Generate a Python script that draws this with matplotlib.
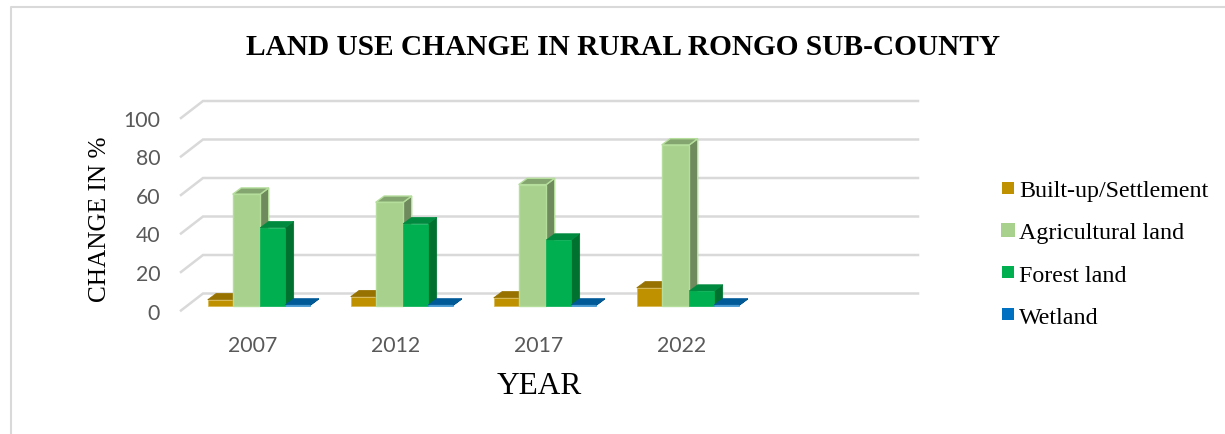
import matplotlib
matplotlib.use("Agg")
import matplotlib.pyplot as plt
from matplotlib.patches import Polygon, Rectangle
from matplotlib.lines import Line2D

years = ["2007", "2012", "2017", "2022"]
series_names = ["Built-up/Settlement", "Agricultural land", "Forest land", "Wetland"]
built_up = [3.0, 4.6, 4.0, 9.2]
agricultural = [57.8, 53.6, 62.8, 83.4]
forest = [40.4, 42.5, 34.0, 7.5]
wetland = [0.3, 0.3, 0.3, 0.3]
y_ticks = [0, 20, 40, 60, 80, 100]

FACE = ["#BF9000", "#A9D18E", "#00B050", "#0070C0"]
SIDE = ["#7F6000", "#6F8A5D", "#00712F", "#004C83"]
TOP = ["#977200", "#85A570", "#008A3F", "#005A98"]
EDGE = ["#D8B64A", "#B5DE9C", "#00B050", "#3F96D0"]

W, H = 1225, 435
fig = plt.figure(figsize=(W / 100, H / 100), dpi=100, facecolor="white")

# Front plane of the box: x 181..896 px, value 0 at y=311.5, value 100 at y=119
L, R, Y0, Y100 = 181, 896, 311.5, 119
ax = fig.add_axes([L / W, 1 - Y0 / H, (R - L) / W, (Y0 - Y100) / H])
ax.set_xlim(-0.5, 4.5)
ax.set_ylim(0, 100)
ax.patch.set_visible(False)
for s in ax.spines.values():
    s.set_visible(False)

px_x = 5.0 / (R - L)
px_y = 100.0 / (Y0 - Y100)

# Receding gridlines: diagonal on the side wall, then across the back wall
wall_dx, wall_dy = 22 * px_x, 17 * px_y
for v in y_ticks:
    ax.plot([-0.5, -0.5 + wall_dx, 4.5 + wall_dx], [v, v + wall_dy, v + wall_dy],
            color="#D9D9D9", lw=1.8, clip_on=False, solid_joinstyle="miter", zorder=1)

# Simulated 3D columns: front face via bar(), plus a side and a top polygon
widths = [25 * px_x, 27.5 * px_x, 25 * px_x, 25 * px_x]
depth_x, depth_y = 8.5 * px_x, 6.3 * px_y
floor = 5 * px_y
shift = -0.5 + (207.7 - L) * px_x
columns = [built_up, agricultural, forest, wetland]
for c in range(len(years)):
    x0 = c + shift
    for i, vals in enumerate(columns):
        v = vals[c]
        x1 = x0 + widths[i]
        top = floor + v
        lw = 1.0 if i == 1 else 0.5
        z = 3 + i * 0.1
        ax.add_patch(Polygon([(x1, floor), (x1 + depth_x, floor + depth_y),
                              (x1 + depth_x, top + depth_y), (x1, top)],
                             fc=SIDE[i], ec=EDGE[i] if i == 1 else SIDE[i], lw=lw, zorder=z, clip_on=False))
        ax.add_patch(Polygon([(x0, top), (x0 + depth_x, top + depth_y),
                              (x1 + depth_x, top + depth_y), (x1, top)],
                             fc=TOP[i], ec=EDGE[i] if i == 1 else TOP[i], lw=lw, zorder=z, clip_on=False))
        ax.bar(x0, v, width=widths[i], bottom=floor, align="edge", color=FACE[i],
               edgecolor=EDGE[i], linewidth=lw, zorder=z + 0.01, clip_on=False)
        x0 = x1

ax.set_xticks(range(len(years)))
ax.set_xticklabels(years, fontsize=15.3, color="#595959", family="Lato")
ax.set_yticks(y_ticks)
ax.set_yticklabels([str(v) for v in y_ticks], fontsize=15.3, color="#595959", family="Lato")
ax.tick_params(axis="x", length=0, pad=18)
ax.tick_params(axis="y", length=0, pad=15)

fig.text(623 / W, 1 - 47.5 / H, "LAND USE CHANGE IN RURAL RONGO SUB-COUNTY", ha="center", va="center",
         family="Liberation Serif", weight="bold", fontsize=21.2, color="black")
fig.text(539 / W, 1 - 387 / H, "YEAR", ha="center", va="center",
         family="Liberation Serif", fontsize=22.6, color="black")
fig.text(100 / W, 1 - 219 / H, "CHANGE IN %", ha="center", va="center", rotation=90,
         family="Liberation Serif", fontsize=18.2, color="black")

# Legend
leg_y = [189, 231, 273, 315]
for name, fc, y, s in zip(series_names, FACE, leg_y, [12, 14, 12, 12]):
    fig.add_artist(Rectangle(((1008 - s / 2) / W, 1 - (y + s / 2) / H), s / W, s / H, fc=fc, ec="none",
                             transform=fig.transFigure))
    fig.text(1019 / W, 1 - (y + 3) / H, name, ha="left", va="center",
             family="Liberation Serif", fontsize=17.3, color="black")

# Thin border around the chart area
fig.add_artist(Line2D([11 / W, 11 / W, 1], [0, 1 - 7.5 / H, 1 - 7.5 / H], color="#D9D9D9", lw=1.5,
                      transform=fig.transFigure))

fig.savefig("out.png", dpi=100)
